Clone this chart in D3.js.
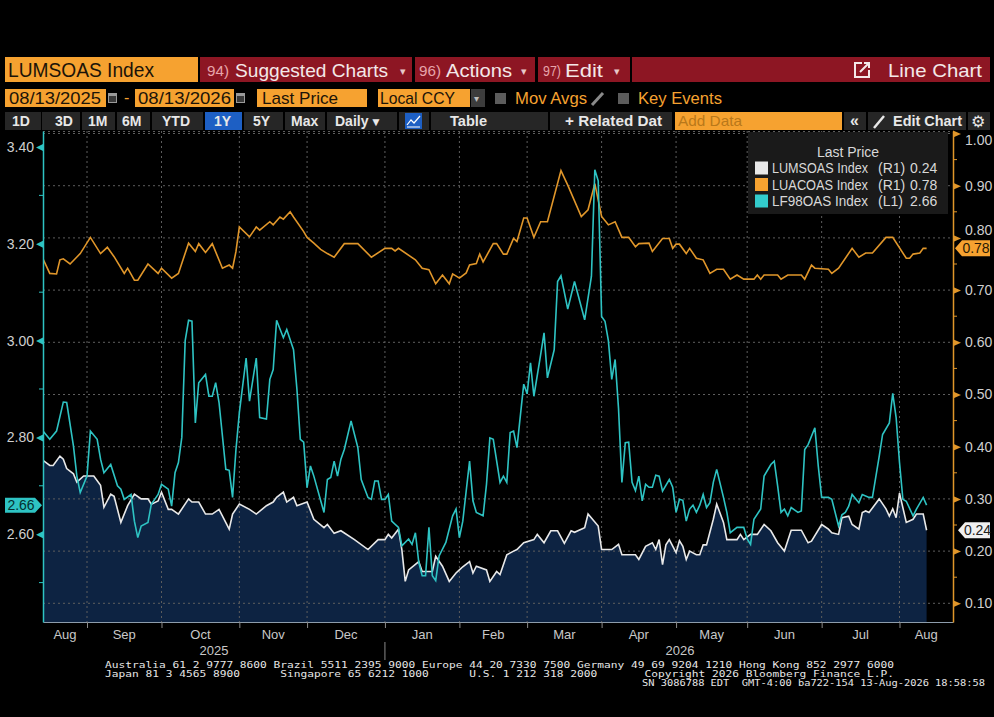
<!DOCTYPE html>
<html>
<head>
<meta charset="utf-8">
<script src="https://cdn.jsdelivr.net/npm/d3@7"></script>
<style>
  body { margin: 0; background: #000; }
  svg { display: block; font-family: "Liberation Sans", Arial, sans-serif; }
</style>
</head>
<body>
<svg width="994" height="717"></svg>
<script>
// ---- data (trading-day index from 08/13/2025, value) ----
const lumsoas = [[0,.374],[2,.364],[3,.364],[5,.382],[6,.376],[7,.358],[9,.348],[10,.332],[12,.344],[15,.344],[17,.326],[18,.284],[20,.309],[21,.305],[23,.255],[25,.287],[27,.309],[29,.300],[31,.300],[32,.290],[34,.296],[35,.313],[37,.280],[38,.280],[40,.271],[43,.300],[44,.294],[46,.294],[48,.271],[50,.271],[52,.280],[55,.242],[56,.271],[58,.290],[61,.280],[63,.271],[66,.287],[68,.294],[69,.303],[71,.313],[72,.294],[74,.303],[75,.287],[78,.294],[80,.261],[83,.245],[84,.251],[86,.234],[88,.239],[92,.222],[96,.203],[99,.222],[101,.222],[102,.232],[103,.225],[105,.242],[106,.203],[107,.142],[108,.164],[111,.180],[112,.161],[115,.161],[116,.190],[118,.171],[120,.142],[122,.158],[123,.164],[124,.170],[126,.180],[127,.158],[128,.171],[131,.164],[132,.142],[134,.161],[135,.155],[137,.193],[139,.200],[140,.203],[142,.216],[145,.222],[146,.232],[148,.216],[150,.239],[152,.239],[154,.215],[156,.239],[157,.236],[160,.245],[161,.271],[164,.248],[165,.203],[168,.203],[170,.213],[171,.193],[175,.193],[176,.184],[178,.209],[180,.216],[181,.203],[182,.222],[183,.174],[184,.212],[185,.222],[187,.197],[188,.220],[189,.209],[190,.184],[191,.200],[193,.193],[194,.193],[195,.212],[196,.212],[198,.261],[199,.290],[201,.255],[202,.222],[205,.222],[206,.232],[207,.222],[209,.232],[211,.232],[213,.251],[215,.239],[217,.216],[219,.200],[221,.240],[224,.240],[226,.216],[227,.219],[230,.251],[232,.242],[233,.235],[235,.232],[236,.264],[238,.267],[239,.251],[241,.242],[242,.274],[243,.277],[244,.274],[247,.300],[249,.281],[250,.267],[251,.281],[252,.264],[253,.311],[255,.255],[257,.261],[258,.271],[260,.271],[261,.240]];

const luacoas = [[0,.760],[2,.732],[4,.731],[5,.758],[6,.760],[8,.750],[11,.770],[14,.801],[17,.770],[19,.782],[21,.764],[24,.732],[25,.742],[27,.719],[28,.719],[31,.750],[34,.732],[35,.742],[38,.723],[40,.732],[43,.790],[45,.774],[46,.789],[48,.772],[50,.789],[53,.742],[55,.748],[56,.742],[57,.774],[58,.821],[61,.802],[63,.821],[64,.815],[67,.831],[68,.825],[70,.840],[71,.836],[73,.850],[74,.840],[77,.812],[78,.801],[80,.790],[82,.778],[84,.770],[86,.763],[89,.789],[93,.789],[97,.763],[101,.780],[103,.780],[104,.775],[105,.780],[110,.758],[112,.742],[114,.739],[116,.712],[118,.729],[120,.712],[121,.731],[123,.723],[125,.733],[126,.748],[128,.751],[129,.769],[130,.754],[133,.789],[134,.789],[136,.769],[137,.769],[139,.799],[140,.793],[142,.838],[143,.838],[145,.801],[147,.831],[149,.831],[153,.929],[155,.901],[159,.841],[161,.854],[163,.904],[165,.841],[167,.825],[169,.831],[171,.801],[173,.801],[175,.783],[176,.789],[179,.790],[180,.774],[183,.799],[185,.799],[186,.780],[187,.788],[188,.788],[190,.770],[191,.780],[193,.761],[195,.758],[197,.732],[199,.740],[201,.740],[203,.721],[205,.729],[207,.721],[210,.721],[211,.729],[212,.721],[213,.729],[217,.729],[218,.721],[220,.729],[224,.729],[225,.721],[227,.748],[228,.742],[232,.740],[233,.732],[235,.742],[239,.780],[241,.763],[243,.771],[245,.771],[249,.801],[251,.801],[255,.761],[256,.761],[257,.769],[259,.771],[260,.780],[261,.780]];

const lf98oas = [[0,2.813],[2,2.796],[4,2.813],[6,2.873],[7,2.872],[9,2.782],[10,2.720],[11,2.686],[13,2.720],[14,2.813],[16,2.796],[17,2.755],[18,2.727],[20,2.744],[22,2.700],[23,2.693],[24,2.672],[26,2.682],[27,2.627],[28,2.593],[29,2.617],[31,2.624],[32,2.662],[33,2.672],[34,2.682],[35,2.703],[37,2.693],[38,2.658],[39,2.727],[40,2.748],[41,2.800],[42,3.000],[43,3.042],[44,3.040],[45,2.830],[46,2.913],[48,2.930],[49,2.885],[50,2.885],[51,2.913],[52,2.872],[54,2.734],[55,2.732],[56,2.676],[57,2.775],[58,2.851],[60,2.964],[61,2.875],[62,2.920],[63,2.964],[64,2.841],[66,2.838],[67,2.920],[68,2.940],[69,3.042],[71,3.006],[72,3.023],[74,2.981],[75,2.900],[76,2.796],[77,2.790],[78,2.696],[79,2.741],[80,2.720],[83,2.645],[84,2.713],[85,2.717],[86,2.751],[87,2.720],[88,2.755],[89,2.775],[91,2.834],[93,2.779],[94,2.713],[96,2.676],[97,2.672],[98,2.710],[99,2.710],[100,2.672],[101,2.672],[102,2.682],[103,2.627],[105,2.614],[106,2.576],[108,2.590],[109,2.579],[110,2.603],[111,2.542],[112,2.514],[113,2.514],[114,2.614],[115,2.514],[116,2.504],[117,2.555],[119,2.583],[121,2.638],[122,2.652],[123,2.593],[124,2.627],[126,2.751],[127,2.669],[128,2.645],[130,2.638],[131,2.703],[132,2.799],[133,2.796],[135,2.707],[136,2.720],[137,2.707],[138,2.810],[139,2.813],[140,2.779],[142,2.910],[143,2.890],[144,2.954],[145,2.885],[147,2.971],[148,3.016],[149,2.923],[151,2.981],[152,3.122],[153,3.134],[155,3.065],[157,3.122],[160,3.043],[162,3.133],[163,3.353],[164,3.330],[165,3.050],[166,3.040],[167,3.000],[168,2.920],[169,2.961],[170,2.860],[171,2.707],[172,2.789],[173,2.790],[174,2.707],[175,2.690],[176,2.720],[177,2.669],[178,2.703],[179,2.697],[180,2.697],[181,2.722],[182,2.720],[183,2.689],[185,2.713],[186,2.697],[187,2.645],[188,2.672],[189,2.670],[190,2.627],[191,2.652],[192,2.660],[193,2.645],[194,2.660],[195,2.682],[196,2.655],[197,2.665],[198,2.707],[199,2.734],[201,2.676],[202,2.645],[203,2.603],[205,2.614],[207,2.614],[208,2.590],[209,2.579],[210,2.631],[212,2.652],[213,2.720],[215,2.744],[216,2.751],[217,2.700],[218,2.645],[219,2.652],[220,2.638],[221,2.655],[223,2.645],[224,2.648],[225,2.775],[226,2.785],[228,2.820],[229,2.741],[230,2.676],[232,2.676],[233,2.672],[235,2.617],[236,2.640],[237,2.645],[238,2.658],[239,2.682],[241,2.665],[242,2.682],[244,2.676],[245,2.676],[247,2.761],[248,2.806],[250,2.830],[251,2.891],[252,2.841],[253,2.748],[254,2.672],[255,2.668],[257,2.638],[258,2.652],[260,2.676],[261,2.660]];

const leftTicks = [2.60, 2.80, 3.00, 3.20, 3.40];
const leftMinor = [2.50, 2.70, 2.90, 3.10, 3.30];
const rightTicks = [0.10, 0.20, 0.30, 0.40, 0.50, 0.60, 0.70, 0.80, 0.90, 1.00];
const rightMinor = [0.15, 0.25, 0.35, 0.45, 0.55, 0.65, 0.75, 0.85, 0.95];

const legendNames = ["LUMSOAS Index", "LUACOAS Index", "LF98OAS Index"];
const legendAxes = ["(R1)", "(R1)", "(L1)"];
const lastValues = [0.24, 0.78, 2.66];

const footerLines = [
  "Australia 61 2 9777 8600 Brazil 5511 2395 9000 Europe 44 20 7330 7500 Germany 49 69 9204 1210 Hong Kong 852 2977 6000",
  "Japan 81 3 4565 8900      Singapore 65 6212 1000      U.S. 1 212 318 2000       Copyright 2026 Bloomberg Finance L.P.",
  "SN 3086788 EDT  GMT-4:00 ba722-154 13-Aug-2026 18:58:58"
];

// ---- colours ----
const ORANGE = "#f6a230", RED = "#8d1623", CYAN = "#2ec3c3", ORANGE_LINE = "#e0962a";
const WHITE_LINE = "#e8e8e8", AREA = "#0d2342", GRID = "#5e5e5e", AXIS_TXT = "#cfcfcf";

const svg = d3.select("svg");
svg.append("rect").attr("width", 994).attr("height", 717).attr("fill", "#000");

function box(x, y, w, h, fill) {
  return svg.append("rect").attr("x", x).attr("y", y).attr("width", w).attr("height", h).attr("fill", fill);
}
function txt(x, y, s, size, fill, o = {}) {
  const t = svg.append("text").attr("x", x).attr("y", y).text(s)
    .attr("fill", fill).style("font-size", size + "px");
  if (o.anchor) t.attr("text-anchor", o.anchor);
  if (o.weight) t.style("font-weight", o.weight);
  if (o.family) t.style("font-family", o.family);
  if (o.len) t.attr("textLength", o.len).attr("lengthAdjust", "spacingAndGlyphs");
  return t;
}

// ---- header row 1 ----
box(5, 57, 193, 25, ORANGE);
txt(8, 77, "LUMSOAS Index", 20, "#1c1408", { len: 146 });
[[200, 212], [415, 120], [538, 92], [632, 358]].forEach(([x, w]) => box(x, 57, w, 25, RED));
txt(207, 76, "94)", 15, "#e7a4aa", { len: 22 });
txt(235, 77, "Suggested Charts", 19, "#f4e8e8", { len: 153 });
txt(400, 75, "▾", 11, "#e8c8c8");
txt(419, 76, "96)", 15, "#e7a4aa", { len: 22 });
txt(446, 77, "Actions", 19, "#f4e8e8", { len: 66 });
txt(521, 75, "▾", 11, "#e8c8c8");
txt(543, 76, "97)", 15, "#e7a4aa", { len: 18 });
txt(565, 77, "Edit", 19, "#f4e8e8", { len: 38 });
txt(614, 75, "▾", 11, "#e8c8c8");
svg.append("path").attr("d", "M862,63 L855,63 L855,77 L869,77 L869,70 M860,72 L869,63 M864,63 L869,63 L869,68")
  .attr("fill", "none").attr("stroke", "#f4e8e8").attr("stroke-width", 2);
txt(888, 77, "Line Chart", 19, "#f4e8e8", { len: 94 });

// ---- header row 2 ----
function cal(x) {
  box(x, 93, 9, 10, "#9a9a9a");
  box(x + 1, 96, 7, 6, "#3a3a3a");
}
box(5, 89, 101, 18, ORANGE);
txt(9, 104, "08/13/2025", 17, "#1c1408", { len: 92 });
cal(108);
txt(124, 103, "-", 16, ORANGE);
box(135, 89, 99, 18, ORANGE);
txt(138, 104, "08/13/2026", 17, "#1c1408", { len: 93 });
cal(236);
box(257, 89, 110, 18, ORANGE);
txt(262, 104, "Last Price", 17, "#1c1408", { len: 76 });
box(378, 89, 92, 18, ORANGE);
txt(380, 104, "Local CCY", 17, "#1c1408", { len: 75 });
box(471, 89, 14, 18, "#3c3c3c");
txt(474, 102, "▾", 10, "#bdbdbd");
box(495, 93, 11, 11, "#5c5c5c");
txt(515, 104, "Mov Avgs", 17, ORANGE, { len: 72 });
svg.append("path").attr("d", "M592,105 L603,93").attr("stroke", "#8a8a8a").attr("stroke-width", 3);
box(618, 93, 11, 11, "#5c5c5c");
txt(638, 104, "Key Events", 17, ORANGE, { len: 84 });

// ---- header row 3 ----
const btns = [[5, 36], [42, 38], [82, 33], [117, 33], [152, 51], [244, 39], [285, 40], [327, 70],
  [399, 30], [431, 117], [550, 122], [844, 22], [868, 98], [968, 22]];
btns.forEach(([x, w]) => box(x, 112, w, 18, "#262626"));
box(205, 112, 37, 18, "#1d5fc4");
box(405, 113, 17, 16, "#1d5fc4");
svg.append("path").attr("d", "M407,125 L411,120 L414,123 L420,116 M407,127 L420,127")
  .attr("fill", "none").attr("stroke", "#ffffff").attr("stroke-width", 1.2);
[["1D", 12], ["3D", 55], ["1M", 88], ["6M", 122], ["YTD", 162], ["1Y", 214], ["5Y", 253], ["Max", 291], ["Daily", 335]]
  .forEach(([s, x]) => txt(x, 126, s, 14, "#e8e8e8", { weight: "bold" }));
txt(370, 126, "▼", 12, "#e8e8e8");
txt(450, 126, "Table", 14, "#e8e8e8", { weight: "bold", len: 37 });
txt(565, 126, "+ Related Dat", 14, "#e8e8e8", { weight: "bold", len: 97 });
box(675, 112, 167, 18, ORANGE);
txt(678, 126, "Add Data", 15, "#b9781a", { len: 64 });
txt(850, 126, "«", 16, "#e8e8e8", { weight: "bold" });
svg.append("path").attr("d", "M874,128 L884,116").attr("stroke", "#e8e8e8").attr("stroke-width", 2.5);
txt(893, 126, "Edit Chart", 14, "#e8e8e8", { weight: "bold", len: 69 });
txt(971, 127, "⚙", 16, "#e8e8e8", { family: "DejaVu Sans" });

// ---- scales ----
const x0 = 43, x1 = 953, yTop = 131, yBot = 622;
const x = d3.scaleLinear().domain([0, 268.8]).range([x0, x1]);
const yR = d3.scaleLinear().domain([0.0642, 1.0048]).range([yBot, yTop]);
const yL = d3.scaleLinear().domain([2.4186, 3.433]).range([yBot, yTop]);

// trading calendar (weekdays) for month boundaries
const days = d3.timeDay.range(new Date(2025, 7, 13), new Date(2026, 7, 14)).filter(d => d.getDay() % 6 !== 0);
const bounds = [];
days.forEach((d, i) => { if (i > 0 && d.getMonth() !== days[i - 1].getMonth()) bounds.push(i); });

svg.append("clipPath").attr("id", "plot").append("rect")
  .attr("x", x0).attr("y", yTop).attr("width", x1 - x0).attr("height", yBot - yTop);
const plot = svg.append("g").attr("clip-path", "url(#plot)");

// area under LUMSOAS
plot.append("path").datum(lumsoas)
  .attr("d", d3.area().x(d => x(d[0])).y0(yBot).y1(d => yR(d[1])))
  .attr("fill", AREA);

// grid
plot.append("g").selectAll("line").data(rightTicks).join("line")
  .attr("x1", x0).attr("x2", x1).attr("y1", d => yR(d)).attr("y2", d => yR(d))
  .attr("stroke", GRID).attr("stroke-dasharray", "2,3");
plot.append("g").selectAll("line").data(bounds).join("line")
  .attr("x1", d => x(d)).attr("x2", d => x(d)).attr("y1", yTop).attr("y2", yBot)
  .attr("stroke", GRID).attr("stroke-dasharray", "2,3");
plot.append("line").attr("x1", x0).attr("x2", x1).attr("y1", yTop + 0.5).attr("y2", yTop + 0.5)
  .attr("stroke", GRID).attr("stroke-dasharray", "2,3");

// lines
const lineR = d3.line().x(d => x(d[0])).y(d => yR(d[1]));
const lineL = d3.line().x(d => x(d[0])).y(d => yL(d[1]));
plot.append("path").datum(luacoas).attr("d", lineR).attr("fill", "none").attr("stroke", ORANGE_LINE).attr("stroke-width", 1.6);
plot.append("path").datum(lumsoas).attr("d", lineR).attr("fill", "none").attr("stroke", WHITE_LINE).attr("stroke-width", 1.6);
plot.append("path").datum(lf98oas).attr("d", lineL).attr("fill", "none").attr("stroke", CYAN).attr("stroke-width", 1.6);

// x axis
const gx = svg.append("g").attr("transform", `translate(0,${yBot})`)
  .call(d3.axisBottom(x).tickValues(bounds).tickFormat("").tickSize(6).tickSizeOuter(0));
gx.select(".domain").attr("stroke", "#8d9cab");
gx.selectAll(".tick line").attr("stroke", "#8a8a8a");
const edges = [0, ...bounds];
edges.forEach((b, k) => {
  const a = x(b), e = k + 1 < edges.length ? x(edges[k + 1]) : x1;
  txt((a + e) / 2, 639, d3.timeFormat("%b")(days[b]), 13, "#c8c8c8", { anchor: "middle" });
});
const janIdx = bounds.find(i => days[i].getMonth() === 0);
txt((x0 + x(janIdx)) / 2, 655, "2025", 13, "#c8c8c8", { anchor: "middle" });
txt((x(janIdx) + 975) / 2, 655, "2026", 13, "#c8c8c8", { anchor: "middle" });
svg.append("line").attr("x1", x(janIdx)).attr("x2", x(janIdx)).attr("y1", 642).attr("y2", 660).attr("stroke", "#8a8a8a");

// left axis
const gl = svg.append("g").attr("transform", `translate(${x0},0)`)
  .call(d3.axisLeft(yL).tickValues(leftTicks).tickFormat(d3.format(".2f")).tickSize(0).tickPadding(9));
gl.select(".domain").attr("stroke", CYAN).attr("stroke-width", 1.5);
gl.selectAll("text").attr("fill", AXIS_TXT).style("font-size", "14px");
gl.selectAll(".tick").append("path").attr("d", "M-7,0 L0,-3.5 L0,3.5 Z").attr("fill", CYAN);
svg.append("g").selectAll("line").data(leftMinor).join("line")
  .attr("x1", x0 - 4).attr("x2", x0).attr("y1", d => yL(d)).attr("y2", d => yL(d)).attr("stroke", CYAN);

// right axis
const gr = svg.append("g").attr("transform", `translate(${x1},0)`)
  .call(d3.axisRight(yR).tickValues(rightTicks).tickFormat(d3.format(".2f")).tickSize(0).tickPadding(12));
gr.select(".domain").attr("stroke", ORANGE_LINE).attr("stroke-width", 1.5);
gr.selectAll("text").attr("fill", AXIS_TXT).style("font-size", "14px");
gr.selectAll(".tick").filter(d => d === 1.00).select("text").attr("dy", "0.75em");
gr.selectAll(".tick").filter(d => d === 0.80).select("text").attr("dy", "-0.25em");
gr.selectAll(".tick").append("path").attr("d", "M8,0 L0,-3.5 L0,3.5 Z").attr("fill", ORANGE_LINE);
svg.append("g").selectAll("line").data(rightMinor).join("line")
  .attr("x1", x1).attr("x2", x1 + 4).attr("y1", d => yR(d)).attr("y2", d => yR(d)).attr("stroke", ORANGE_LINE);

// last value tags
function tagLeft(v, fill, tc) {
  const y = yL(v);
  svg.append("path").attr("d", `M5,${y - 7.5} L35,${y - 7.5} L42,${y} L35,${y + 7.5} L5,${y + 7.5} Z`).attr("fill", fill);
  txt(21, y + 5, v.toFixed(2), 14, tc, { anchor: "middle" });
}
function tagRight(v, tip, fill, tc) {
  const y = yR(v);
  svg.append("path").attr("d", `M${tip},${y} L${tip + 7},${y - 8} L990,${y - 8} L990,${y + 8} L${tip + 7},${y + 8} Z`).attr("fill", fill);
  txt((tip + 7 + 990) / 2, y + 5, v.toFixed(2), 14, tc, { anchor: "middle" });
}
tagLeft(lastValues[2], CYAN, "#05302f");
tagRight(lastValues[1], 955, ORANGE, "#2a1a05");
tagRight(lastValues[0], 958, "#f0f0f0", "#222");

// legend
box(748, 132, 200, 82, "#1a1a1a");
txt(848, 157, "Last Price", 14, "#d8d8d8", { anchor: "middle" });
const swatch = [WHITE_LINE, ORANGE, "#33cccc"];
legendNames.forEach((n, i) => {
  const cy = 168 + i * 16.5;
  box(755, cy - 6.5, 13, 13, swatch[i]);
  txt(772, cy + 5, n, 14, "#d8d8d8", { len: 96 });
  txt(878, cy + 5, legendAxes[i], 14, "#d8d8d8");
  txt(910, cy + 5, lastValues[i].toFixed(2), 14, "#d8d8d8");
});

// footer
const ff = "DejaVu Sans Mono";
txt(105, 668, footerLines[0], 9, "#e6e6e6", { family: ff, len: 789 }).style("white-space", "pre");
txt(105, 677, footerLines[1], 9, "#e6e6e6", { family: ff, len: 789 }).style("white-space", "pre");
txt(642, 686, footerLines[2], 9, "#e6e6e6", { family: ff, len: 343 }).style("white-space", "pre");
</script>
</body>
</html>
